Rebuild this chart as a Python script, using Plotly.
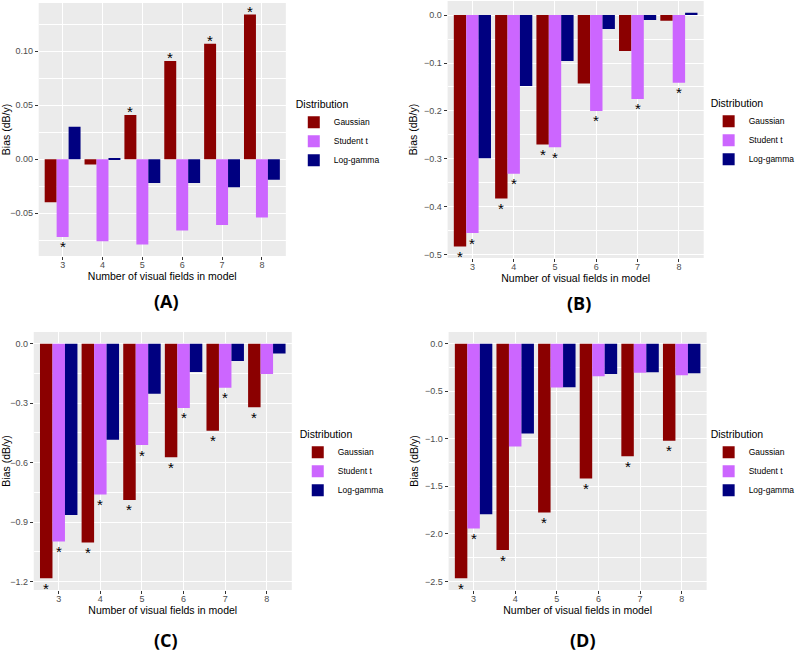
import plotly.graph_objects as go

# ── Datos ────────────────────────────────────────────────────────────────────
campos = [3, 4, 5, 6, 7, 8]
distribuciones = ["Gaussian", "Student t", "Log-gamma"]

# Panel A
a_gauss = [-0.040, -0.005, 0.041, 0.091, 0.107, 0.134]
a_student = [-0.072, -0.076, -0.079, -0.066, -0.061, -0.054]
a_loggamma = [0.030, 0.0005, -0.022, -0.022, -0.026, -0.019]
a_sig_gauss = [0, 0, 1, 1, 1, 1]
a_sig_student = [1, 0, 0, 0, 0, 0]
a_sig_loggamma = [0, 0, 0, 0, 0, 0]

# Panel B
b_gauss = [-0.483, -0.383, -0.270, -0.143, -0.075, -0.012]
b_student = [-0.455, -0.331, -0.276, -0.200, -0.175, -0.141]
b_loggamma = [-0.299, -0.148, -0.096, -0.029, -0.010, 0.005]
b_sig_gauss = [1, 1, 1, 0, 0, 0]
b_sig_student = [1, 1, 1, 1, 1, 1]
b_sig_loggamma = [0, 0, 0, 0, 0, 0]

# Panel C
c_gauss = [-1.183, -1.003, -0.788, -0.573, -0.439, -0.321]
c_student = [-0.997, -0.760, -0.511, -0.324, -0.222, -0.153]
c_loggamma = [-0.864, -0.484, -0.252, -0.143, -0.087, -0.050]
c_sig_gauss = [1, 1, 1, 1, 1, 1]
c_sig_student = [1, 1, 1, 1, 1, 0]
c_sig_loggamma = [0, 0, 0, 0, 0, 0]

# Panel D
d_gauss = [-2.468, -2.171, -1.775, -1.418, -1.183, -1.022]
d_student = [-1.943, -1.082, -0.462, -0.343, -0.305, -0.333]
d_loggamma = [-1.793, -0.945, -0.459, -0.319, -0.301, -0.312]
d_sig_gauss = [1, 1, 1, 1, 1, 1]
d_sig_student = [1, 0, 0, 0, 0, 0]
d_sig_loggamma = [0, 0, 0, 0, 0, 0]

# ── Estilo ───────────────────────────────────────────────────────────────────
COLORES = {"Gaussian": "#8B0000", "Student t": "#CC66FF", "Log-gamma": "#000080"}
FUENTE = "Liberation Sans, Arial, sans-serif"
ANCHO_BARRA = 0.3   # 0.9 por grupo / 3 distribuciones (dodge de ggplot)

paneles = [
    dict(etiqueta="(A)", series=[a_gauss, a_student, a_loggamma],
         sig=[a_sig_gauss, a_sig_student, a_sig_loggamma],
         xdom=[39, 288], ydom=[3, 256], yrango=[-0.0897, 0.1447], dtick=0.05,
         fmt=".2f", leyenda=(296, 94), lab=(168, 301)),
    dict(etiqueta="(B)", series=[b_gauss, b_student, b_loggamma],
         sig=[b_sig_gauss, b_sig_student, b_sig_loggamma],
         xdom=[451, 709], ydom=[1, 258], yrango=[-0.507, 0.0294], dtick=0.1,
         fmt=".1f", leyenda=(714, 93), lab=(583, 303)),
    dict(etiqueta="(C)", series=[c_gauss, c_student, c_loggamma],
         sig=[c_sig_gauss, c_sig_student, c_sig_loggamma],
         xdom=[34, 294], ydom=[332, 590], yrango=[-1.242, 0.059], dtick=0.3,
         fmt=".1f", leyenda=(300, 424), lab=(167, 640)),
    dict(etiqueta="(D)", series=[d_gauss, d_student, d_loggamma],
         sig=[d_sig_gauss, d_sig_student, d_sig_loggamma],
         xdom=[452, 712], ydom=[332, 590], yrango=[-2.591, 0.123], dtick=0.5,
         fmt=".1f", leyenda=(714, 424), lab=(587, 640)),
]

W, H = 800, 652

fig = go.Figure()
layout = {}
anotaciones = []

for i, p in enumerate(paneles, start=1):
    sx = "" if i == 1 else str(i)
    for k, (nombre, valores, sig) in enumerate(zip(distribuciones, p["series"], p["sig"])):
        fig.add_trace(go.Bar(
            x=campos,
            y=valores,
            name=nombre,
            marker=dict(color=COLORES[nombre], line=dict(width=0)),
            offsetgroup=nombre,
            xaxis="x" + sx,
            yaxis="y" + sx,
            legend="legend" + sx,
            hoverinfo="skip",
        ))
        # asteriscos de significancia junto al extremo de cada barra
        desplaz = (k - 1) * ANCHO_BARRA
        for c, v, s in zip(campos, valores, sig):
            if not s:
                continue
            anotaciones.append(dict(
                text="*", x=c + desplaz, y=v,
                xref="x" + sx, yref="y" + sx, showarrow=False,
                xanchor="center", yanchor="middle",
                yshift=3 if v > 0 else -10,
                font=dict(size=15, color="black", family=FUENTE),
            ))

    layout["xaxis" + sx] = dict(
        domain=[p["xdom"][0] / W, p["xdom"][1] / W],
        anchor="y" + sx,
        range=[2.4, 8.6],
        tickmode="array", tickvals=campos, ticktext=[str(c) for c in campos],
        showgrid=True, gridcolor="white", gridwidth=1.1,
        zeroline=False, showline=False,
        ticks="outside", ticklen=3, tickcolor="#333333",
        ticklabelstandoff=-3,
        tickfont=dict(size=9, color="#4d4d4d", family=FUENTE),
        title=dict(text="Number of visual fields in model",
                   font=dict(size=10.5, color="black", family=FUENTE), standoff=0),
        automargin=False,
        fixedrange=True,
    )
    layout["yaxis" + sx] = dict(
        domain=[1 - p["ydom"][1] / H, 1 - p["ydom"][0] / H],
        anchor="x" + sx,
        range=p["yrango"],
        tick0=0, dtick=p["dtick"], tickformat=p["fmt"],
        showgrid=True, gridcolor="white", gridwidth=1.1,
        minor=dict(dtick=p["dtick"] / 2, tick0=0, showgrid=True,
                   gridcolor="white", gridwidth=0.5, ticks=""),
        zeroline=False, showline=False,
        ticks="outside", ticklen=3, tickcolor="#333333",
        tickfont=dict(size=9, color="#4d4d4d", family=FUENTE),
        title=dict(text="Bias (dB/y)",
                   font=dict(size=10.5, color="black", family=FUENTE), standoff=4),
        automargin=False,
        fixedrange=True,
    )
    layout["legend" + sx] = dict(
        x=p["leyenda"][0] / W, y=1 - p["leyenda"][1] / H,
        xanchor="left", yanchor="top",
        bgcolor="rgba(0,0,0,0)",
        title=dict(text="Distribution", font=dict(size=10.5, color="black", family=FUENTE)),
        font=dict(size=8.5, color="black", family=FUENTE),
        tracegroupgap=0,
    )
    anotaciones.append(dict(
        text="<b>" + p["etiqueta"] + "</b>",
        x=p["lab"][0] / W, y=1 - p["lab"][1] / H,
        xref="paper", yref="paper", showarrow=False,
        xanchor="center", yanchor="middle",
        font=dict(size=18, color="black", family="Open Sans, sans-serif"),
    ))

fig.update_layout(
    **layout,
    annotations=anotaciones,
    barmode="group",
    bargap=0.1,
    bargroupgap=0,
    width=W, height=H,
    margin=dict(l=0, r=0, t=0, b=0),
    plot_bgcolor="#EBEBEB",
    paper_bgcolor="white",
    font=dict(family=FUENTE, color="black"),
)

# sin margen del <body> para que la figura ocupe exactamente la ventana
fig.write_html("out.html", config={"displayModeBar": False},
               post_script="document.body.style.margin='0';")
